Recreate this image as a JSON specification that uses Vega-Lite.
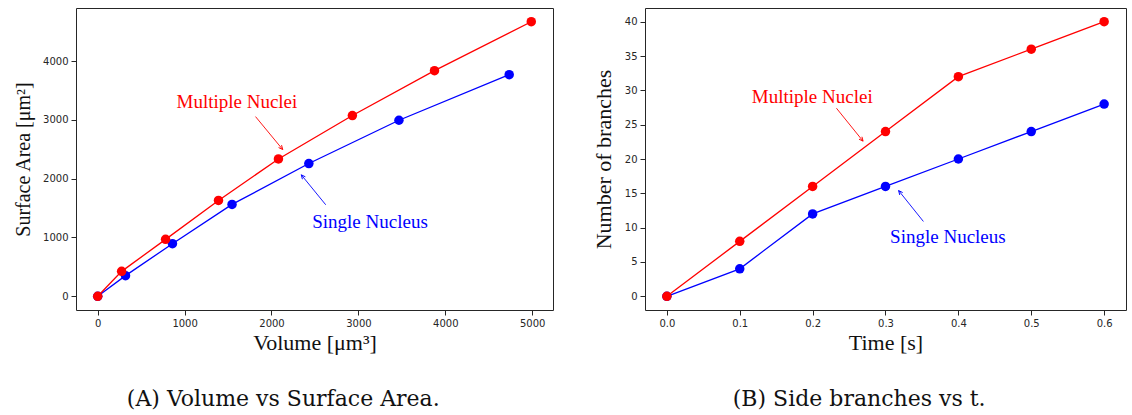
{
  "$schema": "https://vega.github.io/schema/vega-lite/v6.json",
  "background": "white",
  "padding": {"left": 13, "top": 7, "right": 2, "bottom": 2},
  "config": {
    "view": {"stroke": "#262626", "strokeWidth": 1},
    "concat": {"spacing": 37},
    "axis": {
      "grid": false,
      "domain": false,
      "labelOverlap": false,
      "tickColor": "#262626",
      "tickSize": 5,
      "tickWidth": 1,
      "labelFont": "DejaVu Sans",
      "labelFontSize": 10,
      "labelColor": "#262626",
      "labelPadding": 3,
      "titleFont": "Liberation Serif",
      "titleFontSize": 22,
      "titleFontWeight": "normal",
      "titleColor": "#111111"
    },
    "axisX": {"titlePadding": 4},
    "axisY": {"titlePadding": 9},
    "title": {
      "font": "DejaVu Serif",
      "fontSize": 22,
      "fontWeight": "normal",
      "color": "#111111",
      "orient": "bottom",
      "frame": "bounds",
      "anchor": "middle",
      "offset": 36
    }
  },
  "datasets": {
    "volume": [
      {"series": "Single Nucleus", "volume": 0, "area": 0},
      {"series": "Single Nucleus", "volume": 320, "area": 351},
      {"series": "Single Nucleus", "volume": 860, "area": 894},
      {"series": "Single Nucleus", "volume": 1546, "area": 1562},
      {"series": "Single Nucleus", "volume": 2430, "area": 2257},
      {"series": "Single Nucleus", "volume": 3467, "area": 2993},
      {"series": "Single Nucleus", "volume": 4736, "area": 3768},
      {"series": "Multiple Nuclei", "volume": 0, "area": 0},
      {"series": "Multiple Nuclei", "volume": 275, "area": 424},
      {"series": "Multiple Nuclei", "volume": 781, "area": 968},
      {"series": "Multiple Nuclei", "volume": 1390, "area": 1630},
      {"series": "Multiple Nuclei", "volume": 2080, "area": 2335},
      {"series": "Multiple Nuclei", "volume": 2931, "area": 3073},
      {"series": "Multiple Nuclei", "volume": 3876, "area": 3836},
      {"series": "Multiple Nuclei", "volume": 4990, "area": 4668}
    ],
    "volumeNotes": [
      {"series": "Multiple Nuclei", "label": "Multiple Nuclei", "tx": 1602, "ty": 3298, "fromX": 1816, "fromY": 3055, "toX": 2129, "toY": 2495},
      {"series": "Single Nucleus", "label": "Single Nucleus", "tx": 3134, "ty": 1262, "fromX": 2624, "fromY": 1556, "toX": 2343, "toY": 2065}
    ],
    "branches": [
      {"series": "Single Nucleus", "time": 0.0, "branches": 0},
      {"series": "Single Nucleus", "time": 0.1, "branches": 4},
      {"series": "Single Nucleus", "time": 0.2, "branches": 12},
      {"series": "Single Nucleus", "time": 0.3, "branches": 16},
      {"series": "Single Nucleus", "time": 0.4, "branches": 20},
      {"series": "Single Nucleus", "time": 0.5, "branches": 24},
      {"series": "Single Nucleus", "time": 0.6, "branches": 28},
      {"series": "Multiple Nuclei", "time": 0.0, "branches": 0},
      {"series": "Multiple Nuclei", "time": 0.1, "branches": 8},
      {"series": "Multiple Nuclei", "time": 0.2, "branches": 16},
      {"series": "Multiple Nuclei", "time": 0.3, "branches": 24},
      {"series": "Multiple Nuclei", "time": 0.4, "branches": 32},
      {"series": "Multiple Nuclei", "time": 0.5, "branches": 36},
      {"series": "Multiple Nuclei", "time": 0.6, "branches": 40}
    ],
    "branchNotes": [
      {"series": "Multiple Nuclei", "label": "Multiple Nuclei", "tx": 0.1995, "ty": 29.1, "fromX": 0.2327, "fromY": 27.4, "toX": 0.2692, "toY": 22.6},
      {"series": "Single Nucleus", "label": "Single Nucleus", "tx": 0.3856, "ty": 8.7, "fromX": 0.352, "fromY": 10.9, "toX": 0.318, "toY": 15.4}
    ]
  },
  "hconcat": [
    {
      "width": 477,
      "height": 302,
      "title": {"text": "(A) Volume vs Surface Area."},
      "layer": [
        {
          "data": {"name": "volume"},
          "transform": [{"filter": "datum.series === 'Single Nucleus'"}],
          "layer": [
            {"mark": {"type": "line", "color": "#0000ff", "strokeWidth": 1.3}},
            {"mark": {"type": "point", "filled": true, "color": "#0000ff", "size": 90, "opacity": 1}}
          ],
          "encoding": {
            "x": {"field": "volume", "type": "quantitative", "title": "Volume [μm³]",
                  "scale": {"domain": [-250, 5240], "nice": false, "zero": false},
                  "axis": {"values": [0, 1000, 2000, 3000, 4000, 5000], "format": "d"}},
            "y": {"field": "area", "type": "quantitative", "title": "Surface Area [μm²]",
                  "scale": {"domain": [-233, 4901], "nice": false, "zero": false},
                  "axis": {"values": [0, 1000, 2000, 3000, 4000], "format": "d", "titleFontSize": 20}}
          }
        },
        {
          "data": {"name": "volume"},
          "transform": [{"filter": "datum.series === 'Multiple Nuclei'"}],
          "layer": [
            {"mark": {"type": "line", "color": "#ff0000", "strokeWidth": 1.3}},
            {"mark": {"type": "point", "filled": true, "color": "#ff0000", "size": 90, "opacity": 1}}
          ],
          "encoding": {
            "x": {"field": "volume", "type": "quantitative", "title": "Volume [μm³]",
                  "axis": {"values": [0, 1000, 2000, 3000, 4000, 5000], "format": "d"}},
            "y": {"field": "area", "type": "quantitative", "title": "Surface Area [μm²]",
                  "axis": {"values": [0, 1000, 2000, 3000, 4000], "format": "d", "titleFontSize": 20}}
          }
        },
        {
          "data": {"name": "volumeNotes"},
          "layer": [
            {
              "mark": {"type": "rule", "strokeWidth": 0.9},
              "encoding": {
                "x": {"field": "fromX", "type": "quantitative", "title": "Volume [μm³]",
                      "axis": {"values": [0, 1000, 2000, 3000, 4000, 5000], "format": "d"}},
                "y": {"field": "fromY", "type": "quantitative", "title": "Surface Area [μm²]",
                      "axis": {"values": [0, 1000, 2000, 3000, 4000], "format": "d", "titleFontSize": 20}},
                "x2": {"field": "toX"},
                "y2": {"field": "toY"},
                "color": {"field": "series", "type": "nominal", "legend": null,
                          "scale": {"domain": ["Single Nucleus", "Multiple Nuclei"], "range": ["#0000ff", "#ff0000"]}}
              }
            },
            {
              "transform": [{"filter": "datum.series === 'Multiple Nuclei'"}],
              "mark": {"type": "point", "shape": "M-0.6,1.3L0,0L0.6,1.3", "filled": false, "color": "#ff0000", "strokeWidth": 0.9, "size": 40, "angle": 140.5, "opacity": 1},
              "encoding": {
                "x": {"field": "toX", "type": "quantitative", "title": "Volume [μm³]",
                      "axis": {"values": [0, 1000, 2000, 3000, 4000, 5000], "format": "d"}},
                "y": {"field": "toY", "type": "quantitative", "title": "Surface Area [μm²]",
                      "axis": {"values": [0, 1000, 2000, 3000, 4000], "format": "d", "titleFontSize": 20}}
              }
            },
            {
              "transform": [{"filter": "datum.series === 'Single Nucleus'"}],
              "mark": {"type": "point", "shape": "M-0.6,1.3L0,0L0.6,1.3", "filled": false, "color": "#0000ff", "strokeWidth": 0.9, "size": 40, "angle": 321, "opacity": 1},
              "encoding": {
                "x": {"field": "toX", "type": "quantitative", "title": "Volume [μm³]",
                      "axis": {"values": [0, 1000, 2000, 3000, 4000, 5000], "format": "d"}},
                "y": {"field": "toY", "type": "quantitative", "title": "Surface Area [μm²]",
                      "axis": {"values": [0, 1000, 2000, 3000, 4000], "format": "d", "titleFontSize": 20}}
              }
            },
            {
              "mark": {"type": "text", "font": "Liberation Serif", "fontSize": 19, "align": "center", "baseline": "middle"},
              "encoding": {
                "x": {"field": "tx", "type": "quantitative", "title": "Volume [μm³]",
                      "axis": {"values": [0, 1000, 2000, 3000, 4000, 5000], "format": "d"}},
                "y": {"field": "ty", "type": "quantitative", "title": "Surface Area [μm²]",
                      "axis": {"values": [0, 1000, 2000, 3000, 4000], "format": "d", "titleFontSize": 20}},
                "text": {"field": "label"},
                "color": {"field": "series", "type": "nominal", "legend": null}
              }
            }
          ]
        }
      ]
    },
    {
      "width": 481,
      "height": 302,
      "title": {"text": "(B) Side branches vs t."},
      "layer": [
        {
          "data": {"name": "branches"},
          "transform": [{"filter": "datum.series === 'Single Nucleus'"}],
          "layer": [
            {"mark": {"type": "line", "color": "#0000ff", "strokeWidth": 1.3}},
            {"mark": {"type": "point", "filled": true, "color": "#0000ff", "size": 90, "opacity": 1}}
          ],
          "encoding": {
            "x": {"field": "time", "type": "quantitative", "title": "Time [s]",
                  "scale": {"domain": [-0.03, 0.63], "nice": false, "zero": false},
                  "axis": {"values": [0, 0.1, 0.2, 0.3, 0.4, 0.5, 0.6], "format": ".1f"}},
            "y": {"field": "branches", "type": "quantitative", "title": "Number of branches",
                  "scale": {"domain": [-2, 42], "nice": false, "zero": false},
                  "axis": {"values": [0, 5, 10, 15, 20, 25, 30, 35, 40], "format": "d"}}
          }
        },
        {
          "data": {"name": "branches"},
          "transform": [{"filter": "datum.series === 'Multiple Nuclei'"}],
          "layer": [
            {"mark": {"type": "line", "color": "#ff0000", "strokeWidth": 1.3}},
            {"mark": {"type": "point", "filled": true, "color": "#ff0000", "size": 90, "opacity": 1}}
          ],
          "encoding": {
            "x": {"field": "time", "type": "quantitative", "title": "Time [s]",
                  "axis": {"values": [0, 0.1, 0.2, 0.3, 0.4, 0.5, 0.6], "format": ".1f"}},
            "y": {"field": "branches", "type": "quantitative", "title": "Number of branches",
                  "axis": {"values": [0, 5, 10, 15, 20, 25, 30, 35, 40], "format": "d"}}
          }
        },
        {
          "data": {"name": "branchNotes"},
          "layer": [
            {
              "mark": {"type": "rule", "strokeWidth": 0.9},
              "encoding": {
                "x": {"field": "fromX", "type": "quantitative", "title": "Time [s]",
                      "axis": {"values": [0, 0.1, 0.2, 0.3, 0.4, 0.5, 0.6], "format": ".1f"}},
                "y": {"field": "fromY", "type": "quantitative", "title": "Number of branches",
                      "axis": {"values": [0, 5, 10, 15, 20, 25, 30, 35, 40], "format": "d"}},
                "x2": {"field": "toX"},
                "y2": {"field": "toY"},
                "color": {"field": "series", "type": "nominal", "legend": null,
                          "scale": {"domain": ["Single Nucleus", "Multiple Nuclei"], "range": ["#0000ff", "#ff0000"]}}
              }
            },
            {
              "transform": [{"filter": "datum.series === 'Multiple Nuclei'"}],
              "mark": {"type": "point", "shape": "M-0.6,1.3L0,0L0.6,1.3", "filled": false, "color": "#ff0000", "strokeWidth": 0.9, "size": 40, "angle": 141, "opacity": 1},
              "encoding": {
                "x": {"field": "toX", "type": "quantitative", "title": "Time [s]",
                      "axis": {"values": [0, 0.1, 0.2, 0.3, 0.4, 0.5, 0.6], "format": ".1f"}},
                "y": {"field": "toY", "type": "quantitative", "title": "Number of branches",
                      "axis": {"values": [0, 5, 10, 15, 20, 25, 30, 35, 40], "format": "d"}}
              }
            },
            {
              "transform": [{"filter": "datum.series === 'Single Nucleus'"}],
              "mark": {"type": "point", "shape": "M-0.6,1.3L0,0L0.6,1.3", "filled": false, "color": "#0000ff", "strokeWidth": 0.9, "size": 40, "angle": 321, "opacity": 1},
              "encoding": {
                "x": {"field": "toX", "type": "quantitative", "title": "Time [s]",
                      "axis": {"values": [0, 0.1, 0.2, 0.3, 0.4, 0.5, 0.6], "format": ".1f"}},
                "y": {"field": "toY", "type": "quantitative", "title": "Number of branches",
                      "axis": {"values": [0, 5, 10, 15, 20, 25, 30, 35, 40], "format": "d"}}
              }
            },
            {
              "mark": {"type": "text", "font": "Liberation Serif", "fontSize": 19, "align": "center", "baseline": "middle"},
              "encoding": {
                "x": {"field": "tx", "type": "quantitative", "title": "Time [s]",
                      "axis": {"values": [0, 0.1, 0.2, 0.3, 0.4, 0.5, 0.6], "format": ".1f"}},
                "y": {"field": "ty", "type": "quantitative", "title": "Number of branches",
                      "axis": {"values": [0, 5, 10, 15, 20, 25, 30, 35, 40], "format": "d"}},
                "text": {"field": "label"},
                "color": {"field": "series", "type": "nominal", "legend": null}
              }
            }
          ]
        }
      ]
    }
  ]
}
